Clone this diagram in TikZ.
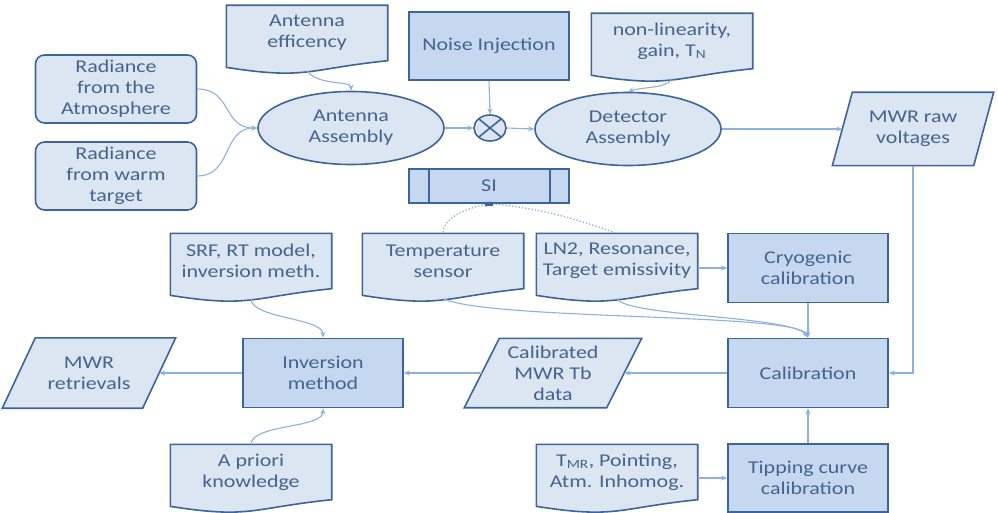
\documentclass[tikz,border=0pt]{standalone}
\usepackage{fontspec}
\setmainfont{Carlito}[FakeStretch=1.22]
\usetikzlibrary{arrows.meta,calc,positioning,shapes.geometric,backgrounds}
\definecolor{edge}{HTML}{3D6599}
\definecolor{txt}{HTML}{44648F}
\definecolor{palefill}{HTML}{DCE6F2}
\definecolor{procfill}{HTML}{C6D8EF}
\definecolor{linkblue}{HTML}{8FB1DD}

% document shape: wavy bottom drawn below the node
\newcommand{\docoutline}[1]{%
  \filldraw[shapeline] let \p1=(#1.north west), \p2=(#1.south east), \n1={\y1-\y2} in
    (\x1,\y1) -- (\x2,\y1) -- (\x2,\y2)
    .. controls ({0.5*\x1+0.5*\x2},{\y1-1.15*\n1}) and ({0.5*\x1+0.5*\x2},{\y1-1.35*\n1}) ..
    (\x1,{\y1-1.12*\n1}) -- cycle;}
% parallelogram round a node, #2 = half the slant
\newcommand{\paraoutline}[2]{%
  \filldraw[shapeline] ([xshift=-#2]#1.south west) -- ([xshift=#2]#1.north west)
    -- ([xshift=#2]#1.north east) -- ([xshift=-#2]#1.south east) -- cycle;}

\begin{document}
\begin{tikzpicture}[x=1pt,y=-1pt,
  base/.style={font=\fontsize{18}{21}\selectfont, text=txt, align=center, inner sep=0pt},
  shapeline/.style={draw=edge, fill=palefill, line width=1.6pt},
  roundbox/.style={base, shapeline, rounded corners=9pt, minimum width=161pt, minimum height=68pt},
  procbox/.style={base, draw=edge, fill=procfill, line width=1.6pt, minimum width=160pt, minimum height=68pt},
  oval/.style={base, shapeline, ellipse, minimum width=186pt, minimum height=73pt},
  docbox/.style={base, minimum width=161pt, minimum height=55pt},
  databox/.style={base, minimum height=70pt},
  mixer/.style={shapeline, ellipse, minimum width=32pt, minimum height=26pt,
    path picture={\draw[edge, line width=1.6pt]
      (path picture bounding box.north west) -- (path picture bounding box.south east)
      (path picture bounding box.north east) -- (path picture bounding box.south west);}},
  flow/.style={draw=linkblue, line width=1.1pt, -{Stealth[length=6pt,width=5pt]}},
  sensed/.style={draw=linkblue, line width=1.3pt, dotted, {Square[length=4pt,width=4pt,color=edge]}-},
]
\useasboundingbox (0,0) rectangle (998,513);

% sources
\node[roundbox] (atm) at (116,89) {Radiance\\from the\\Atmosphere};
\node[roundbox] (warm) at (116,176) {Radiance\\from warm\\target};
\node[docbox] (eff) at (307,33) {Antenna\\efficency};
\node[procbox] (noise) at (489,46) {Noise Injection};
\node[docbox] (nonlin) at (672,41) {non-linearity,\\gain, T\textsubscript{N}};

% receiver chain
\node[oval] (ant) at (351,128) {Antenna\\Assembly};
\node[mixer] (mix) at (490,128) {};
\node[oval] (det) at (628,129) {Detector\\Assembly};
\node[databox, minimum width=141pt, minimum height=73pt] (raw) at (913,129) {MWR raw\\voltages};
\node[procbox, minimum height=34pt] (si) at (489,186) {SI};

% calibration inputs
\node[docbox] (srf) at (251,261) {SRF, RT model,\\inversion meth.};
\node[docbox] (temp) at (443,261) {Temperature\\sensor};
\node[docbox] (ln2) at (617,261) {LN2, Resonance,\\Target emissivity};
\node[procbox, minimum height=69pt] (cryo) at (808,268) {Cryogenic\\calibration};

% products
\node[databox, minimum width=140pt] (retr) at (89,373) {MWR\\retrievals};
\node[procbox, minimum height=69pt] (inv) at (323,373) {Inversion\\method};
\node[databox, minimum width=142pt, minimum height=69pt] (calibd) at (553,373) {Calibrated\\MWR Tb\\data};
\node[procbox, minimum height=69pt] (calib) at (808,373) {Calibration};

% bottom row
\node[docbox] (apriori) at (251,472) {A priori\\knowledge};
\node[docbox] (tmr) at (617,472) {T\textsubscript{MR}, Pointing,\\Atm. Inhomog.};
\node[procbox] (tip) at (808,478) {Tipping curve\\calibration};

\begin{pgfonlayer}{background}
  \foreach \d in {eff,nonlin,srf,temp,ln2,apriori,tmr} {\docoutline{\d}}
  \paraoutline{raw}{10pt}
  \paraoutline{retr}{16.5pt}
  \paraoutline{calibd}{17.5pt}
\end{pgfonlayer}

\draw[edge, line width=1.6pt] ([xshift=21pt]si.north west) -- ([xshift=21pt]si.south west)
  ([xshift=-20pt]si.north east) -- ([xshift=-20pt]si.south east);

% wave bottoms
\coordinate (effw) at ($(eff.south)+(0,10)$);
\coordinate (nlw) at ($(nonlin.south)+(0,10)$);
\coordinate (srfw) at ($(srf.south)+(0,10)$);
\coordinate (tempw) at ($(temp.south)+(0,10)$);
\coordinate (ln2w) at ($(ln2.south)+(0,10)$);

% signal path
\draw[flow] (atm.east) .. controls +(35,0) and +(-35,0) .. (ant.west);
\draw[flow] (warm.east) .. controls +(35,0) and +(-35,0) .. (ant.west);
\draw[flow] (effw) .. controls +(10,15) and +(0,-10) .. (ant.north);
\draw[flow] (noise.south) -- (mix.north);
\draw[flow] (ant.east) -- (mix.west);
\draw[flow] (mix.east) -- (det.west);
\draw[flow] (nlw) .. controls +(-5,10) and +(15,-5) .. (det.north);
\draw[flow] (det.east) -- (raw.west);
\draw[flow] (raw.south) |- (calib.east);

% calibration
\draw[sensed] (si.south) .. controls +(-25,5) and +(0,-15) .. (temp.north);
\draw[sensed] (si.south) .. controls +(60,5) and +(-30,-10) .. (ln2.north);
\draw[flow] (cryo.west -| ln2.east) -- (cryo.west);
\draw[flow] (cryo.south) -- (calib.north);
\draw[flow] (tempw) .. controls +(50,22) and +(-10,-25) .. (calib.north);
\draw[flow] (ln2w) .. controls +(10,18) and +(-15,-22) .. (calib.north);
\draw[flow] (tip.west -| tmr.east) -- (tip.west);
\draw[flow] (tip.north) -- (calib.south);

% retrieval
\draw[flow] (calib.west) -- (calibd.east);
\draw[flow] (calibd.west) -- (inv.east);
\draw[flow] (inv.west) -- (retr.east);
\draw[flow] (srfw) .. controls +(0,20) and +(0,-20) .. (inv.north);
\draw[flow] (apriori.north) .. controls +(0,-20) and +(0,20) .. (inv.south);
\end{tikzpicture}
\end{document}
